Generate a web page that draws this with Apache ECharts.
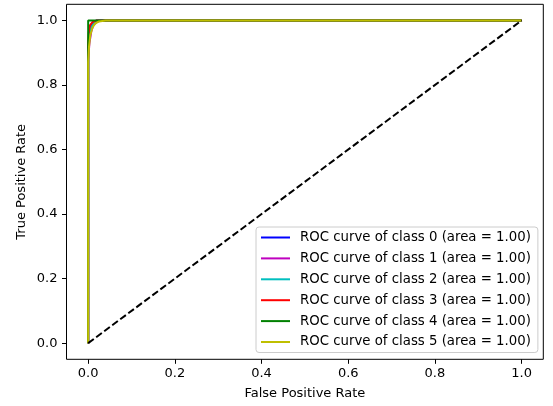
<!DOCTYPE html>
<html>
<head>
<meta charset="utf-8">
<script src="https://cdn.jsdelivr.net/npm/echarts@6/dist/echarts.min.js"></script>
<style>html,body{margin:0;padding:0;background:#fff}#c{width:553px;height:406px}</style>
</head>
<body>
<div id="c"></div>
<script>
// Data
const classNames = ['ROC curve of class 0 (area = 1.00)','ROC curve of class 1 (area = 1.00)','ROC curve of class 2 (area = 1.00)','ROC curve of class 3 (area = 1.00)','ROC curve of class 4 (area = 1.00)','ROC curve of class 5 (area = 1.00)'];
const fpr0 = [0, 0, 0.002, 0.005, 0.01, 0.02, 1];
const tpr0 = [0, 0.91, 0.95, 0.98, 0.993, 1, 1];
const fpr1 = [0, 0, 0.003, 0.007, 0.012, 0.02, 0.03, 1];
const tpr1 = [0, 0.88, 0.93, 0.965, 0.985, 0.995, 1, 1];
const fpr2 = [0, 0, 0.002, 0.006, 0.012, 0.025, 1];
const tpr2 = [0, 0.9, 0.94, 0.975, 0.99, 1, 1];
const fpr3 = [0, 0, 0.001, 0.004, 0.01, 0.02, 1];
const tpr3 = [0, 0.93, 0.96, 0.985, 0.995, 1, 1];
const fpr4 = [0, 0, 1];
const tpr4 = [0, 1, 1];
const fpr5 = [0, 0, 0.002, 0.005, 0.01, 0.016, 0.025, 0.04, 1];
const tpr5 = [0, 0.87, 0.92, 0.955, 0.978, 0.99, 0.997, 1, 1];
const diagX = [0, 1];
const diagY = [0, 1];
const tickValues = [0, 0.2, 0.4, 0.6, 0.8, 1.0];
const colors = ['#0000ff', '#bf00bf', '#00bfbf', '#ff0000', '#008000', '#bfbf00'];

const fprs = [fpr0, fpr1, fpr2, fpr3, fpr4, fpr5];
const tprs = [tpr0, tpr1, tpr2, tpr3, tpr4, tpr5];
const zip = (a, b) => a.map((v, i) => [v, b[i]]);

const FONT = 'DejaVu Sans';
const FS = 13;

const series = classNames.map((n, i) => ({
  name: n, type: 'line',
  data: zip(fprs[i], tprs[i]), showSymbol: false, symbol: 'none',
  lineStyle: {color: colors[i], width: 2}, itemStyle: {color: colors[i]},
  animation: false, z: 2 + i
}));
series.push({
  type: 'line', data: zip(diagX, diagY),
  showSymbol: false, symbol: 'none',
  lineStyle: {color: '#000', width: 2, type: [7, 3]}, animation: false, z: 10
});

const axisCommon = {
  type: 'value', min: -0.05, max: 1.05,
  axisLine: {show: false, onZero: false}, splitLine: {show: false},
  axisTick: {show: true, length: 4.5, customValues: tickValues, lineStyle: {color: '#000', width: 1}},
  axisLabel: {color: '#000', fontSize: FS, fontFamily: FONT, customValues: tickValues,
    formatter: v => v.toFixed(1)},
  nameLocation: 'middle',
  nameTextStyle: {color: '#000', fontSize: FS, fontFamily: FONT}
};

const chart = echarts.init(document.getElementById('c'), null, {renderer: 'canvas'});
chart.setOption({
  animation: false,
  backgroundColor: '#fff',
  textStyle: {fontFamily: FONT},
  grid: {left: 66.5, right: 9.7, top: 4.3, bottom: 46.7, show: true, borderColor: '#000', borderWidth: 1, backgroundColor: 'transparent'},
  xAxis: Object.assign({}, axisCommon, {
    name: 'False Positive Rate', nameGap: 28,
    axisLabel: Object.assign({}, axisCommon.axisLabel, {margin: 8})
  }),
  yAxis: Object.assign({}, axisCommon, {
    name: 'True Positive Rate', nameGap: 38, nameMoveOverlap: false,
    axisLabel: Object.assign({}, axisCommon.axisLabel, {margin: 9})
  }),
  legend: {
    data: classNames, orient: 'vertical', left: 256, top: 227,
    icon: 'rect', itemWidth: 29, itemHeight: 2, itemGap: 7.9,
    padding: [4, 7, 4, 5],
    borderColor: '#cccccc', borderWidth: 1, borderRadius: 3,
    backgroundColor: 'rgba(255,255,255,0.8)',
    textStyle: {color: '#000', fontSize: 13.3, fontFamily: FONT, padding: [0, 0, 0, 5]},
    selectedMode: false, z: 20
  },
  series: series
});
</script>
</body>
</html>
